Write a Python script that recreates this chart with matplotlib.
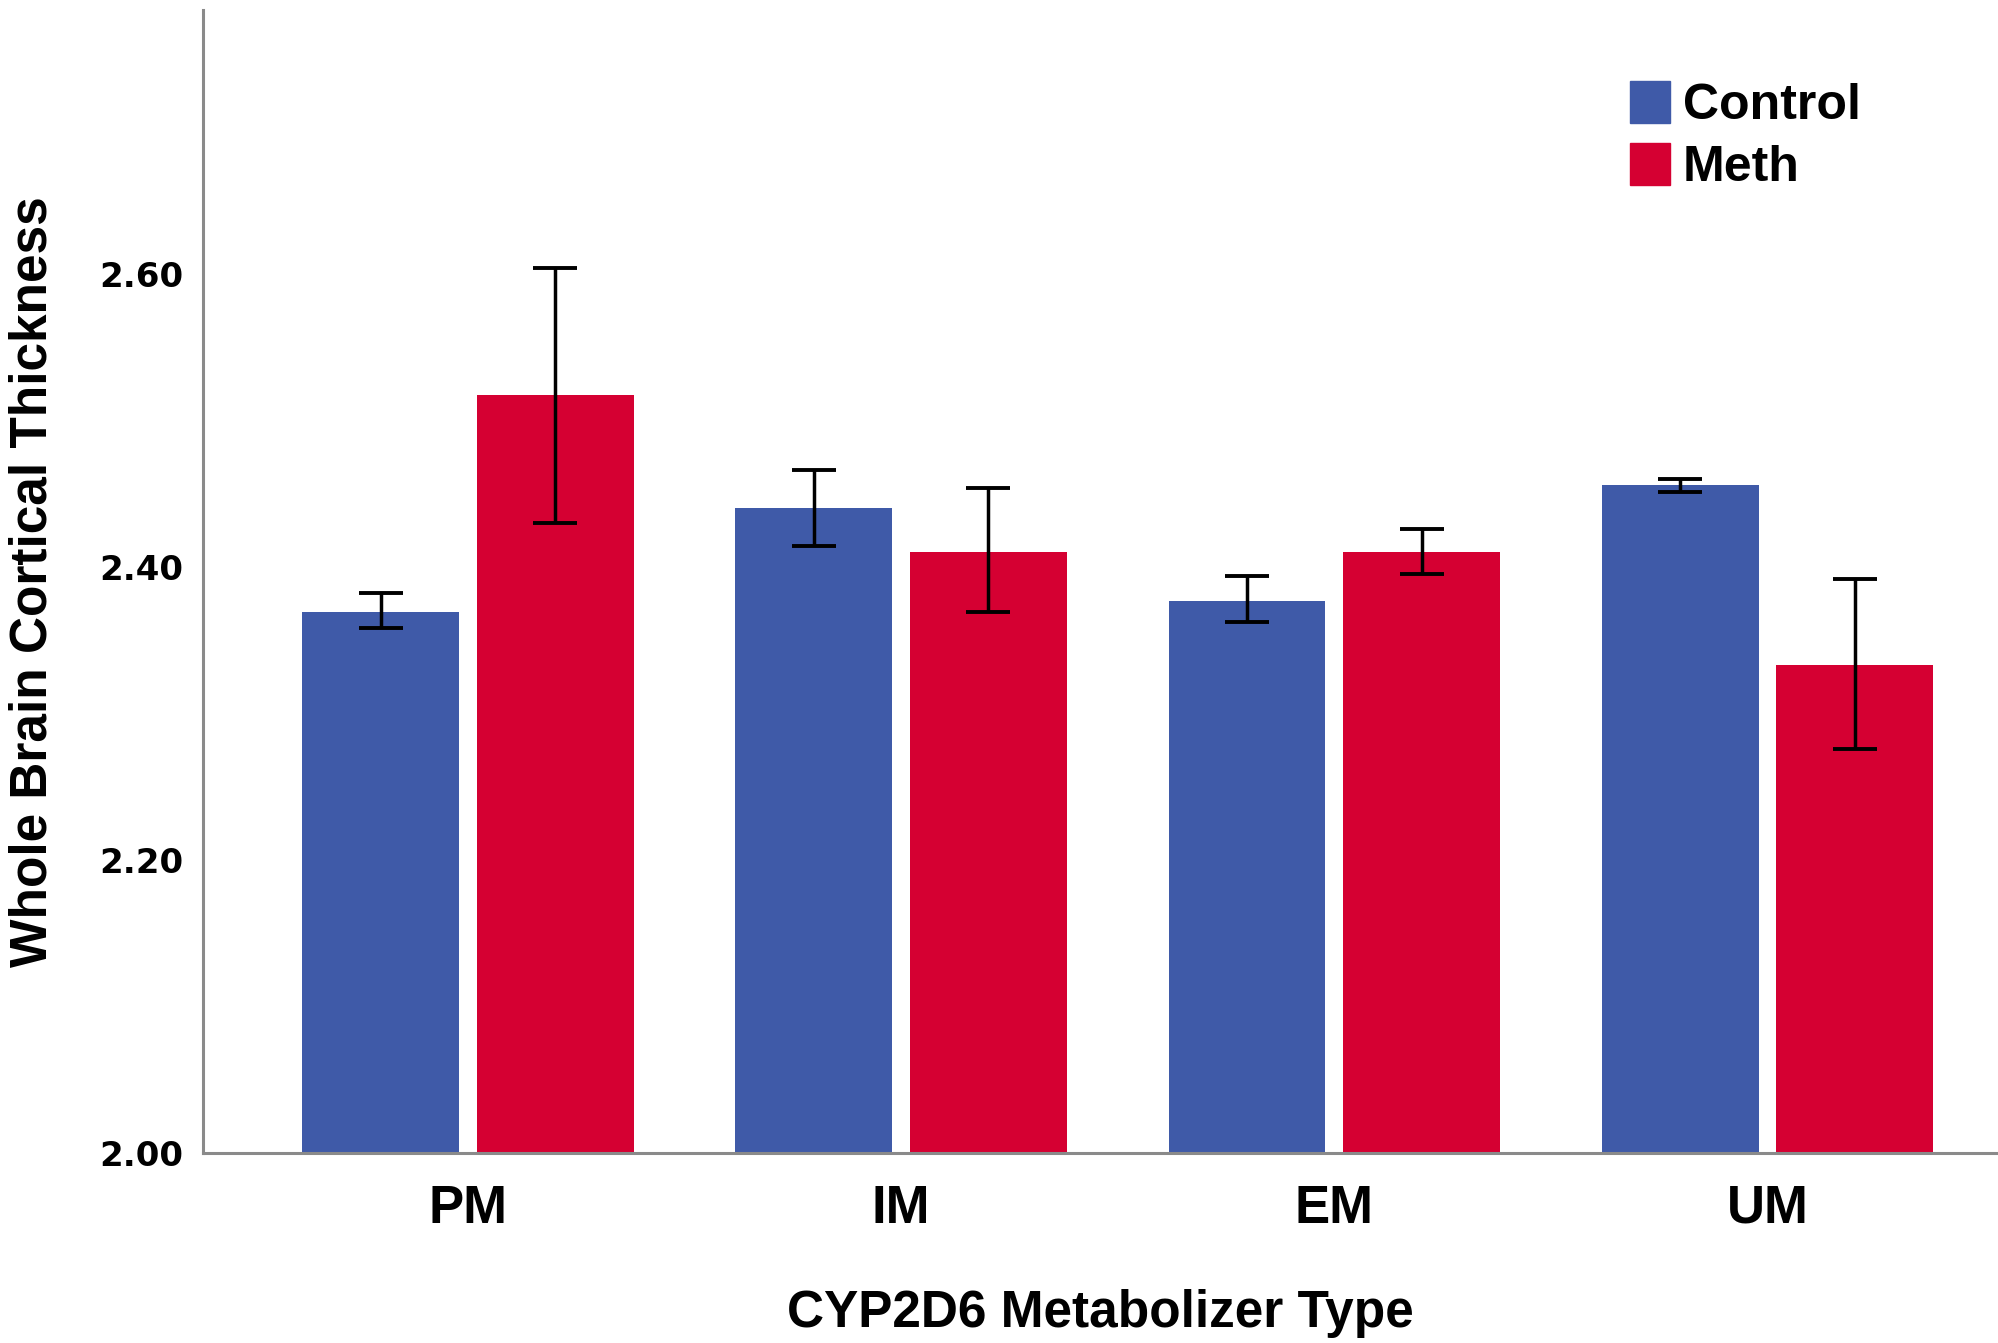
import matplotlib.pyplot as plt
import numpy as np
from matplotlib.patches import Patch

# data
categories = ['PM', 'IM', 'EM', 'UM']
control_mean = [2.369, 2.440, 2.377, 2.456]
control_lo = [2.358, 2.414, 2.362, 2.451]
control_hi = [2.382, 2.466, 2.394, 2.460]
meth_mean = [2.517, 2.410, 2.410, 2.333]
meth_lo = [2.430, 2.369, 2.395, 2.276]
meth_hi = [2.604, 2.454, 2.426, 2.392]
yticks = [2.00, 2.20, 2.40, 2.60]

blue = '#3F5AA8'
red = '#D50032'
spine_col = '#8a8a8a'

fig = plt.figure(figsize=(19.98, 13.43), dpi=100)
ax = fig.add_axes([0.1015, 0.1415, 0.8985, 0.8511])

x = np.arange(len(categories))
w = 0.362
off = 0.2015

c_err = [np.array(control_mean) - np.array(control_lo), np.array(control_hi) - np.array(control_mean)]
m_err = [np.array(meth_mean) - np.array(meth_lo), np.array(meth_hi) - np.array(meth_mean)]

ekw = dict(ecolor='black', elinewidth=2.5, capsize=15.5, capthick=2.8)
ax.bar(x - off, control_mean, w, color=blue, yerr=c_err, error_kw=ekw, zorder=2)
ax.bar(x + off, meth_mean, w, color=red, yerr=m_err, error_kw=ekw, zorder=2)

ax.set_ylim(2.0, 2.78)
ax.set_xlim(-0.612, 3.532)
ax.set_yticks(yticks)
ax.set_yticklabels(['%.2f' % v for v in yticks], fontfamily='DejaVu Sans',
                   fontweight='bold', fontsize=24.5)
ax.set_xticks(x)
ax.set_xticklabels(categories, fontfamily='Liberation Sans', fontweight='bold', fontsize=38)
ax.tick_params(axis='y', length=0, pad=14)
ax.tick_params(axis='x', length=0, pad=22)

for s in ['top', 'right']:
    ax.spines[s].set_visible(False)
for s in ['left', 'bottom']:
    ax.spines[s].set_color(spine_col)
    ax.spines[s].set_linewidth(2.2)
    ax.spines[s].set_zorder(3)

ax.set_xlabel('CYP2D6 Metabolizer Type', fontfamily='Liberation Sans',
              fontweight='bold', fontsize=37, labelpad=40)
ax.set_ylabel('Whole Brain Cortical Thickness', fontfamily='Liberation Sans',
              fontweight='bold', fontsize=37, labelpad=30)

handles = [Patch(color=blue, label='Control'), Patch(color=red, label='Meth')]
leg = fig.legend(handles=handles, loc='upper left', bbox_to_anchor=(0.8035, 0.958),
                 frameon=False, borderpad=0, handlelength=0.8, handleheight=0.9,
                 handletextpad=0.25, labelspacing=0.28,
                 prop={'family': 'Liberation Sans', 'weight': 'bold', 'size': 36})

fig.savefig('out.png', dpi=100)
